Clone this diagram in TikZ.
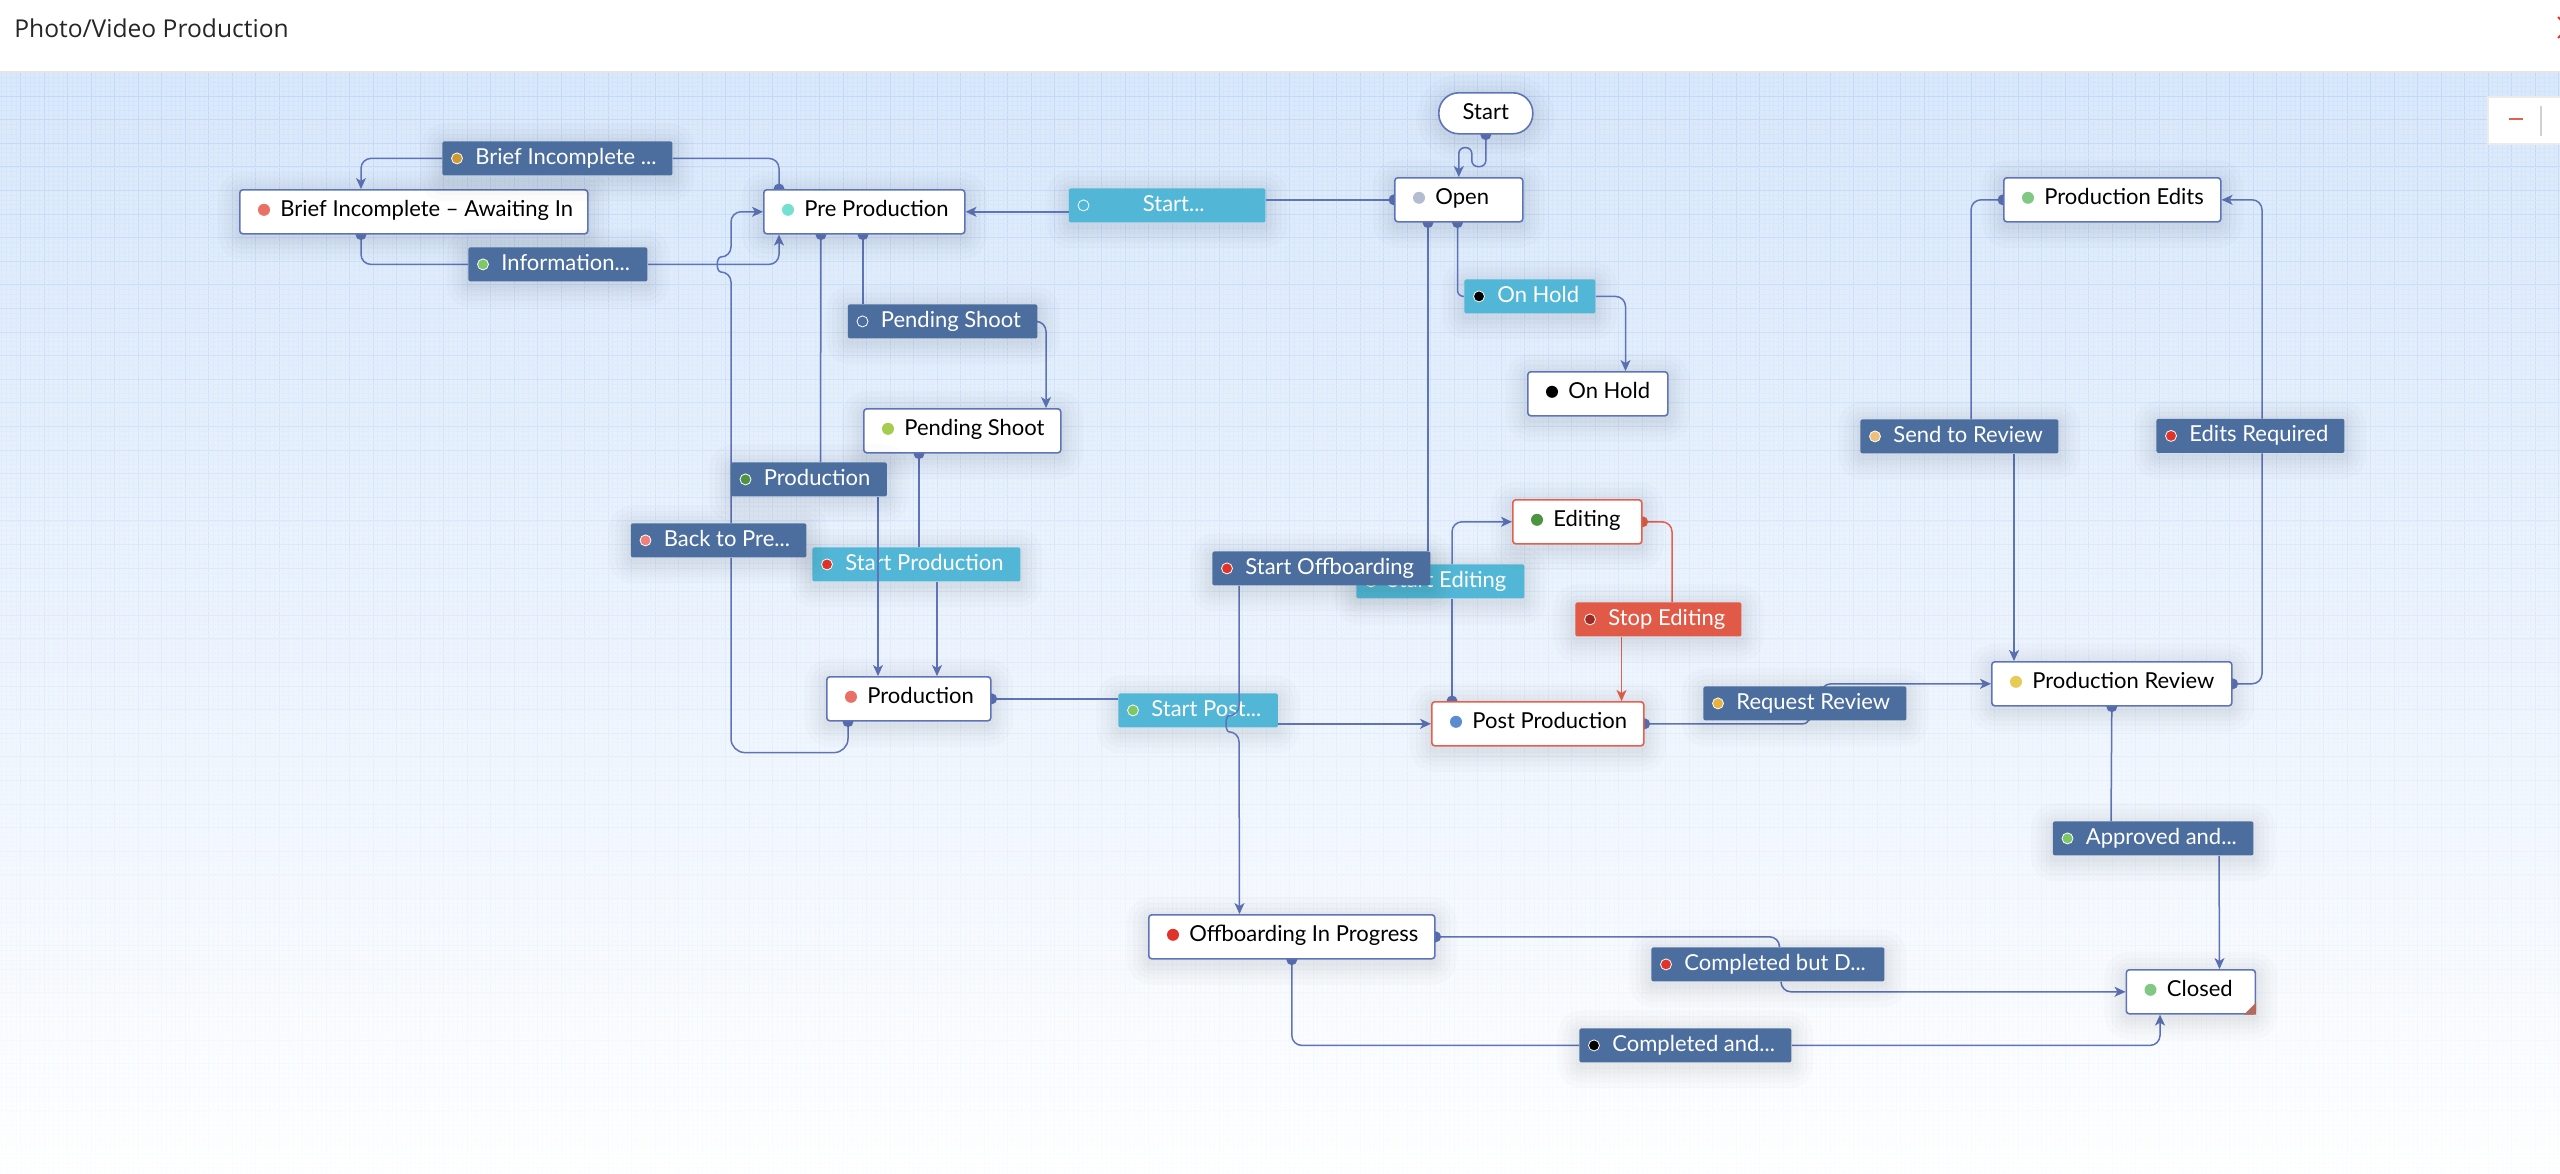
\documentclass[tikz,border=0pt]{standalone}
\usepackage{fontspec}
\usetikzlibrary{arrows.meta,calc}
\newfontfamily\flowfont{Lato}
\newfontfamily\headfont{Open Sans}

\definecolor{wireblue}{HTML}{5F74B8}
\definecolor{wirered}{HTML}{E4604C}
\definecolor{labelblue}{HTML}{4C6E9E}
\definecolor{labelcyan}{HTML}{52B7D6}
\definecolor{labelred}{HTML}{E05A47}
\definecolor{paper}{HTML}{D9E8FB}
\definecolor{gridmajor}{HTML}{C0D9F7}
\definecolor{gridminor}{HTML}{D2E4FA}
\definecolor{dotcoral}{HTML}{EA6F64}
\definecolor{dotaqua}{HTML}{74E0D0}
\definecolor{dotlime}{HTML}{A4CC4E}
\definecolor{dotgrey}{HTML}{B3BCD0}
\definecolor{dotmint}{HTML}{82C885}
\definecolor{dotgreen}{HTML}{4D9440}
\definecolor{dotsky}{HTML}{5B8BD0}
\definecolor{dotyellow}{HTML}{E6CB55}
\definecolor{dotred}{HTML}{E0342A}
\definecolor{dotochre}{HTML}{CF9A30}
\definecolor{dotleaf}{HTML}{7EC765}
\definecolor{dotpink}{HTML}{EF7F7F}
\definecolor{dotsand}{HTML}{EDC07A}
\definecolor{dotamber}{HTML}{E9B23C}
\definecolor{dotwine}{HTML}{9E2A22}

\pgfdeclarelayer{low}
\pgfdeclarelayer{wires}
\pgfsetlayers{low,wires,main}

\tikzset{
  halo/.style={preaction={draw=black, line width=#1, draw opacity=.016, line join=round, transform canvas={yshift=-2pt}}},
  softshadow/.style={halo=22pt, halo=16pt, halo=11pt, halo=7pt, halo=3pt},
  statebox/.style={draw=wireblue, line width=.8pt, fill=white, rounded corners=1.5pt, anchor=north west,
    inner sep=0pt, minimum height=22pt, softshadow},
  flowbox/.style={rounded corners=1pt, anchor=north west, inner sep=0pt, minimum height=17pt, softshadow},
  statetext/.style={font=\flowfont\fontsize{11}{14}\selectfont, inner sep=0pt, anchor=west, text height=8.5pt, text depth=2.5pt},
  flowtext/.style={statetext, text=white},
  flowdot/.style={draw=white!75, line width=.4pt},
  wire/.style={draw=wireblue, line width=.75pt, rounded corners=5pt},
  wirein/.style={wire, -{Stealth[length=5.5pt, width=5pt, inset=1.5pt]}},
  redwire/.style={wire, draw=wirered},
  redwirein/.style={wirein, draw=wirered},
}

\begin{document}
\begin{tikzpicture}[x=.5pt, y=-.5pt]
\useasboundingbox (0,0) rectangle (2560,1173);

% paper and grid
\begin{pgfonlayer}{low}
\shade[top color=paper, bottom color=white] (0,72) rectangle (2560,1173);
% upright lines in bands, so that they fade downwards
\foreach \k in {0,...,27}{
  \pgfmathsetmacro{\ya}{72+40*\k}
  \pgfmathsetmacro{\yb}{\ya+40}
  \pgfmathsetmacro{\mix}{100-3.4*\k}
  \draw[gridminor!\mix!white, line width=.3pt, xstep=2.35pt, ystep=10000pt, xshift=.85pt] (-1.7,\yb) grid (2558.3,\ya);
  \draw[gridmajor!\mix!white, line width=.5pt, xstep=11.75pt, ystep=10000pt, xshift=10.25pt] (-20.5,\yb) grid (2539.5,\ya);
}
\foreach \k in {0,...,234}{
  \pgfmathsetmacro{\yc}{72.5+4.72*\k}
  \pgfmathsetmacro{\mix}{100-.085*(\yc-72)}
  \draw[gridminor!\mix!white, line width=.3pt] (0,\yc) -- (2560,\yc);
}
\foreach \k in {-1,...,46}{
  \pgfmathsetmacro{\yc}{96+23.6*\k}
  \pgfmathsetmacro{\mix}{100-.085*(\yc-72)}
  \draw[gridmajor!\mix!white, line width=.5pt] (0,\yc) -- (2560,\yc);
}

% header
\fill[white] (0,0) rectangle (2560,71);
\draw[black!10, line width=1pt] (0,71.5) -- (2560,71.5);
\node[font=\headfont\fontsize{12.3}{14}\selectfont, text=black!85, anchor=base west, inner sep=0pt] (title) at (14,37) {Photo/Video Production};
\draw[dotred, line width=1pt] (2558,17) -- (2562,21) (2558,38) -- (2562,34);

% zoom control
\fill[white, draw=black!8, line width=.8pt] (2488,97) rectangle (2562,144);
\draw[wirered, line width=.9pt] (2509,119) -- (2523,119);
\draw[black!18, line width=.9pt] (2541,106) -- (2541,136);

% light labels lie under the wires
\foreach \nm/\x/\y/\w/\tx/\col/\txt in {
  lstart/1068.5/188/196.5/74/labelcyan/Start{...},
  lsprod/812/547/208/33/dotred/Start Production,
  lspost/1118/693/159.5/33/dotleaf/Start Post{...},
  lsedit/1356/564/168/31/dotleaf/Start Editing,
  lhold/1464/279/131/33/black/On Hold}{
  \node[flowbox, fill=labelcyan, minimum width=\w*.5pt] (\nm) at (\x,\y) {};
  \fill[\col, flowdot] ($(\nm.west)+(15,0)$) circle[radius=5.5];
  \node[flowtext] (\nm-t) at ($(\nm.west)+(\tx,0)$) {\txt};
}
\end{pgfonlayer}

% states
\foreach \nm/\x/\y/\w/\col/\txt in {
  brief/239/189/348/dotcoral/Brief Incomplete – Awaiting In,
  pre/763/189/201/dotaqua/Pre Production,
  pendst/863/408/197/dotlime/Pending Shoot,
  prod/826/676/164/dotcoral/Production,
  open/1394/177/128/dotgrey/Open,
  holdst/1527/371/140/black/On Hold,
  edits/2003/177/217/dotmint/Production Edits,
  review/1991/661/240/dotyellow/Production Review,
  offb/1148/914/286/dotred/Offboarding In Progress,
  closed/2125.5/969/129/dotmint/Closed}{
  \node[statebox, minimum width=\w*.5pt] (\nm) at (\x,\y) {};
  \fill[\col] ($(\nm.west)+(25,-2)$) circle[radius=6];
  \node[statetext] (\nm-t) at ($(\nm.west)+(41,-1)$) {\txt};
}
\foreach \nm/\x/\y/\w/\col/\txt in {
  editing/1512/499/129/dotgreen/Editing,
  post/1431/701/212/dotsky/Post Production}{
  \node[statebox, draw=wirered, minimum width=\w*.5pt] (\nm) at (\x,\y) {};
  \fill[\col] ($(\nm.west)+(25,-2)$) circle[radius=6];
  \node[statetext] (\nm-t) at ($(\nm.west)+(41,-1)$) {\txt};
}
\node[statebox, rounded corners=10pt, minimum width=47pt, minimum height=20.5pt] (start) at (1438,92) {};
\node[statetext, anchor=center] (start-t) at (start.center) {Start};
\fill[wirered!70!black!80] ($(closed.south east)+(-12,0)$) -- (closed.south east) -- ($(closed.south east)+(0,-12)$) -- cycle;

% dark labels
\foreach \nm/\x/\y/\w/\bg/\col/\txt in {
  lbrief/442/141/230/labelblue/dotochre/Brief Incomplete {...},
  linfo/468/247/179/labelblue/dotleaf/Information{...},
  lpend/847.5/304/189.5/labelblue/labelblue/Pending Shoot,
  lprod/730.5/462/156/labelblue/dotgreen/Production,
  lback/630.5/523/175.5/labelblue/dotpink/Back to Pre{...},
  loff/1212/551/218/labelblue/dotred/Start Offboarding,
  lsend/1860/419/198/labelblue/dotsand/Send to Review,
  lreq/2156/418.5/188/labelblue/dotred/Edits Required,
  lrequest/1703/686/203/labelblue/dotamber/Request Review,
  lappr/2052.5/821/200.5/labelblue/dotleaf/Approved and{...},
  lcbut/1651/947/233/labelblue/dotred/Completed but D{...},
  lcand/1579/1028/212/labelblue/black/Completed and{...},
  lstop/1575/602/166/labelred/dotwine/Stop Editing}{
  \node[flowbox, fill=\bg, minimum width=\w*.5pt] (\nm) at (\x,\y) {};
  \fill[\col, flowdot] ($(\nm.west)+(15,0)$) circle[radius=5.5];
  \node[flowtext] (\nm-t) at ($(\nm.west)+(33,0)$) {\txt};
}

% ports and wires
\begin{pgfonlayer}{wires}
\coordinate (hopinfo) at ($(lback.north west)+(100.5,-259)$);
\coordinate (hoppost) at ($(loff.south west)+(27,138)$);

\foreach \p/\dx in {start.south/0, open.west/0, review.east/0, review.south/0, prod.east/0, offb.east/0, offb.south/0, edits.west/0, post.east/0,
  pre.north west/16, brief.south west/122, pre.south west/58, pre.south west/100,
  pendst.south west/56, prod.south west/22, open.south west/34, open.south west/63.5,
  post.north west/21}{
  \fill[wireblue] ($(\p)+(\dx,0)$) circle[radius=5.5];
}
\fill[wirered] (editing.east) circle[radius=5.5];

\draw[wirein, rounded corners=3pt] (start.south) -- ($(start.south)+(0,32)$) -- ($(start.south)+(-14,32)$) -- ($(start.south)+(-14,13)$)
  -- ($(start.south)+(-27,13)$) -- (open.north);
\draw[wire] (open.west) -- (open.west -| lstart.east);
\draw[wirein] (pre.east -| lstart.west) -- (pre.east);
\draw[wire] ($(pre.north west)+(16,0)$) |- (lbrief.east);
\draw[wirein] (lbrief.west) -| ($(brief.north west)+(122,0)$);
\draw[wire] ($(brief.south west)+(122,0)$) |- (linfo.west);
\draw[wirein] (linfo.east) -| ($(pre.south west)+(16,0)$);
\draw[wire] ($(pre.south west)+(58,0)$) -- ($(lprod.north west)+(90,0)$);
\draw[wirein] ($(lprod.south west)+(147.5,0)$) -- ($(prod.north west)+(52,0)$);
\draw[wire] ($(pre.south west)+(100,0)$) -- ($(lpend.north west)+(15.5,0)$);
\draw[wirein] (lpend.east) -| ($(pendst.north west)+(183,0)$);
\draw[wire] ($(pendst.south west)+(56,0)$) -- ($(lsprod.north west)+(107,0)$);
\draw[wirein] ($(lsprod.south west)+(125,0)$) -- ($(prod.north west)+(111,0)$);

% back to pre production, with a hop over the information wire
\draw[wire, rounded corners=7pt] ($(prod.south west)+(22,0)$) -- ($(prod.south west)+(22,31)$) -- ($(prod.south west)+(-95,31)$) -- ($(lback.south west)+(100.5,0)$);
\draw[wirein] ($(lback.north west)+(100.5,0)$) -- ($(hopinfo)+(0,8)$)
  .. controls ($(hopinfo)+(-15,8)$) and ($(hopinfo)+(-15,-7)$) .. ($(hopinfo)+(0,-7)$) |- (pre.west);

\draw[wire] (prod.east) -- (prod.east -| lspost.west);
\draw[wirein] (post.west -| lspost.east) -- (post.west);
\draw[wire] ($(open.south west)+(34,0)$) -- ($(loff.north west)+(216,0)$);
\draw[wirein] ($(loff.south west)+(27,0)$) -- ($(hoppost)+(0,-8)$)
  .. controls ($(hoppost)+(-14,-8)$) and ($(hoppost)+(-14,8)$) .. ($(hoppost)+(0,8)$) -- ($(offb.north west)+(91.5,0)$);
\draw[wire, rounded corners=3pt] ($(open.south west)+(63.5,0)$) |- (lhold.west);
\draw[wirein] (lhold.east) -| ($(holdst.north west)+(98.5,0)$);
\draw[wire] ($(post.north west)+(21,0)$) -- ($(lsedit.south west)+(96,0)$);
\draw[wirein] ($(lsedit.north west)+(96,0)$) |- (editing.west);
\draw[redwire] (editing.east) -| ($(lstop.north west)+(97,0)$);
\draw[redwirein] ($(lstop.south west)+(46.5,0)$) -- ($(post.north west)+(190.5,0)$);
\draw[wire, rounded corners=3pt] (post.east) -| ($(lrequest.south west)+(106,0)$);
\draw[wirein] ($(lrequest.north west)+(118,0)$) |- (review.west);
\draw[wirein] ($(lsend.south west)+(154,0)$) -- ($(review.north west)+(23,0)$);
\draw[wire] ($(lsend.north west)+(111,0)$) |- (edits.west);
\draw[wire] (review.east) -| ($(lreq.south west)+(106,0)$);
\draw[wirein] ($(lreq.north west)+(106,0)$) |- (edits.east);
\draw[wire] (review.south) -- ($(lappr.north west)+(58.5,0)$);
\draw[wirein] ($(lappr.south west)+(166.5,0)$) -- ($(closed.north west)+(94,0)$);
\draw[wire] (offb.east) -| ($(lcbut.north west)+(128.5,0)$);
\draw[wirein] ($(lcbut.south west)+(130,0)$) |- (closed.west);
\draw[wire] (offb.south) |- (lcand.west);
\draw[wirein] (lcand.east) -| ($(closed.south west)+(34.5,0)$);
\end{pgfonlayer}
\end{tikzpicture}
\end{document}
